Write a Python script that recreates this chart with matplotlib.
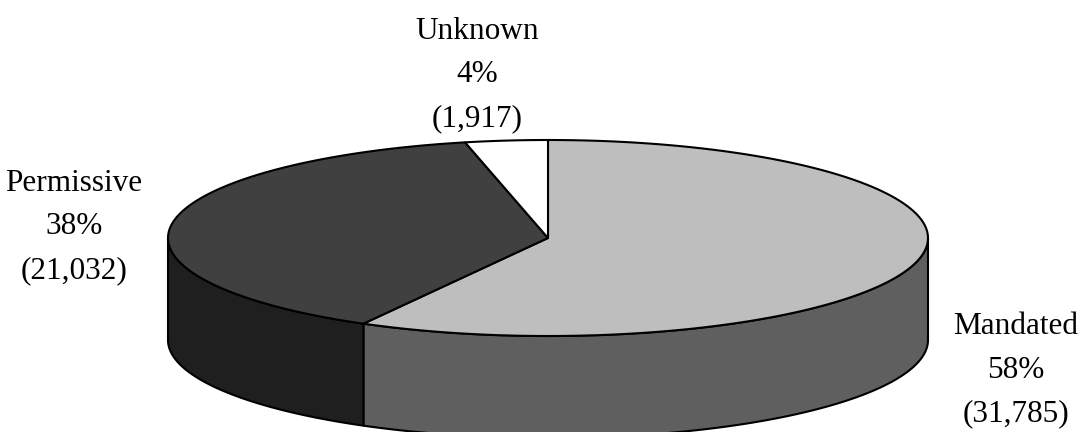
import numpy as np
import matplotlib
matplotlib.use('Agg')
import matplotlib.pyplot as plt
from matplotlib.patches import Polygon

categories = ['Mandated', 'Permissive', 'Unknown']
percents = [58, 38, 4]
counts = [31785, 21032, 1917]
top_colors = ['#bebebe', '#404040', '#ffffff']
side_colors = ['#5f5f5f', '#1f1f1f', '#ffffff']
label_pos = [(1016, 370), (74, 227), (477, 75)]

# ellipse geometry in pixels
cx, cy = 548, 238
rx, ry = 380, 98
depth = 102

plt.rcParams['font.family'] = ['Liberation Serif', 'DejaVu Serif']
fig = plt.figure(figsize=(10.81, 4.32), dpi=100)
ax = fig.add_axes([0, 0, 1, 1])
ax.set_xlim(0, 1081)
ax.set_ylim(432, 0)
ax.axis('off')


def rim(a0, a1, n=200):
    t = np.radians(np.linspace(a0, a1, n))
    return np.column_stack([cx + rx * np.cos(t), cy - ry * np.sin(t)])


# slices go clockwise from 12 o'clock
fracs = np.array(counts) / sum(counts)
edges = 90 - 360 * np.concatenate([[0], np.cumsum(fracs)])

# side wall first, only the front half is seen
for i in range(len(counts)):
    # clip to the front part, angles between -180 and 0
    a0, a1 = min(edges[i], 0), max(edges[i + 1], -180)
    if a0 <= a1:
        continue
    upper = rim(a0, a1)
    lower = upper[::-1] + [0, depth]
    ax.add_patch(Polygon(np.vstack([upper, lower]), closed=True, facecolor=side_colors[i],
                         edgecolor='black', linewidth=1.5, joinstyle='round'))

# top face
for i in range(len(counts)):
    pts = np.vstack([[cx, cy], rim(edges[i], edges[i + 1])])
    ax.add_patch(Polygon(pts, closed=True, facecolor=top_colors[i],
                         edgecolor='black', linewidth=1.5, joinstyle='round'))

for name, p, c, pos in zip(categories, percents, counts, label_pos):
    ax.text(pos[0], pos[1], f'{name}\n{p}%\n({c:,})', ha='center', va='center',
            fontsize=22.5, linespacing=1.65, color='black')

fig.savefig('out.png', dpi=100)
